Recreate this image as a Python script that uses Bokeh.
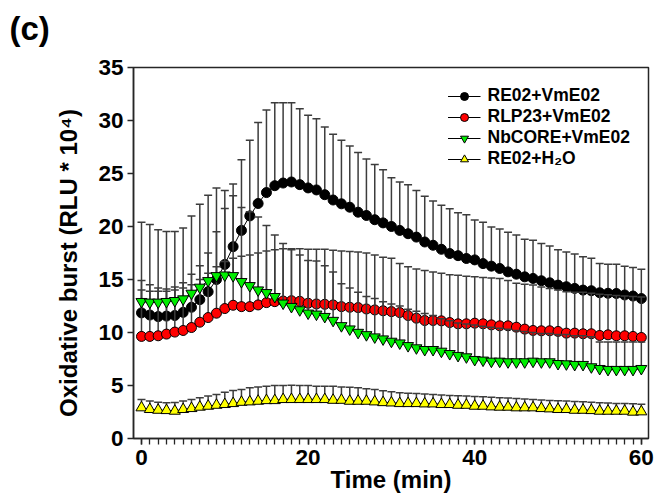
from bokeh.plotting import figure
from bokeh.models import Range1d, FixedTicker, Legend, LegendItem, Title
from bokeh.embed import file_html
from bokeh.resources import INLINE

# ---------------- data ----------------
time_min = list(range(61))
x_ticks = [0, 20, 40, 60]
y_ticks = [0, 5, 10, 15, 20, 25, 30, 35]

re02_vme02 = [11.85, 11.65, 11.5, 11.55, 11.6, 11.9, 12.38, 13.1, 13.85, 15.0,
              16.42, 18.1, 19.63, 21.0, 22.17, 23.2, 23.85, 24.1, 24.2, 23.95,
              23.64, 23.45, 23.0, 22.5, 22.14, 21.82, 21.35, 21.04, 20.64, 20.34,
              20.0, 19.63, 19.32, 19.0, 18.54, 18.23, 17.85, 17.45, 17.25, 16.98,
              16.85, 16.5, 16.26, 16.04, 15.72, 15.5, 15.25, 15.1, 14.88, 14.69,
              14.47, 14.32, 14.16, 14.0, 13.94, 13.75, 13.7, 13.68, 13.54, 13.44, 13.2]
re02_vme02_upper = [20.4, 20.2, 19.7, 19.54, 19.54, 19.85, 20.98, 22.1, 22.95, 23.64,
                    23.39, 24.0, 26.3, 28.14, 29.8, 30.98, 31.67, 31.67, 31.67, 31.1,
                    30.5, 30.17, 29.39, 28.7, 28.14, 27.6, 26.98, 26.36, 25.85, 25.36,
                    24.6, 24.2, 23.95, 23.4, 22.85, 22.4, 22.0, 21.67, 21.3, 21.1,
                    20.62, 20.4, 19.95, 19.77, 19.45, 19.2, 18.8, 18.7, 18.4, 18.15,
                    17.8, 17.6, 17.4, 17.15, 17.0, 16.5, 16.44, 16.44, 16.26, 16.13, 15.97]

rlp23_vme02 = [9.63, 9.63, 9.69, 9.85, 10.04, 10.19, 10.47, 10.97, 11.41, 11.82,
               12.26, 12.57, 12.44, 12.44, 12.6, 12.82, 12.91, 12.97, 13.0, 12.94,
               12.76, 12.69, 12.66, 12.6, 12.44, 12.38, 12.35, 12.22, 12.13, 12.05,
               11.97, 11.88, 11.6, 11.35, 11.13, 11.13, 11.1, 10.94, 10.82, 10.82,
               10.88, 10.82, 10.72, 10.63, 10.63, 10.5, 10.32, 10.19, 10.16, 10.16,
               10.1, 9.94, 9.94, 9.88, 9.88, 9.72, 9.78, 9.69, 9.69, 9.63, 9.53]
rlp23_vme02_upper = [14.0, 13.9, 13.9, 13.9, 14.0, 14.2, 14.5, 15.0, 15.6, 16.2,
                     16.7, 17.0, 17.2, 17.3, 17.5, 17.7, 17.8, 17.9, 17.9, 17.9,
                     17.85, 17.85, 17.85, 17.75, 17.7, 17.65, 17.6, 17.5, 17.3, 17.1,
                     17.0, 16.5, 16.2, 16.0, 15.85, 15.7, 15.6, 15.45, 15.4, 15.3,
                     15.25, 15.2, 15.15, 15.1, 14.9, 14.65, 14.55, 14.47, 14.3, 14.15,
                     14.0, 13.85, 13.8, 13.8, 13.7, 13.6, 13.55, 13.5, 13.45, 13.4, 13.35]

nbcore_vme02 = [12.91, 12.85, 12.85, 12.91, 13.0, 13.16, 13.69, 14.26, 14.88, 15.35,
                15.41, 15.35, 14.79, 14.41, 14.0, 13.75, 13.38, 12.76, 12.44, 12.13,
                11.82, 11.72, 11.5, 11.13, 10.63, 10.32, 10.0, 9.78, 9.57, 9.38,
                9.16, 9.0, 8.75, 8.54, 8.38, 8.38, 8.22, 8.0, 7.82, 7.69,
                7.44, 7.38, 7.28, 7.28, 7.22, 7.22, 7.22, 7.28, 7.22, 7.22,
                7.06, 7.03, 6.97, 6.97, 6.75, 6.59, 6.5, 6.5, 6.5, 6.5, 6.59]
nbcore_vme02_upper = [14.9, 14.5, 14.2, 14.1, 14.3, 14.7, 15.5, 16.3, 17.5, 19.5,
                      21.7, 22.9, 21.8, 21.4, 20.9, 20.1, 19.2, 18.4, 17.8, 17.3,
                      16.8, 16.75, 16.3, 15.7, 14.6, 14.2, 13.8, 13.4, 13.2, 12.9,
                      12.7, 12.5, 12.2, 12.0, 11.8, 11.6, 11.3, 11.1, 10.9, 10.8,
                      10.7, 10.6, 10.5, 10.4, 10.3, 10.2, 10.1, 10.0, 9.9, 9.9,
                      9.8, 9.8, 9.7, 9.7, 9.6, 9.1, 9.1, 9.1, 9.1, 9.1, 9.1]

re02_h2o = [2.91, 2.75, 2.68, 2.65, 2.59, 2.75, 2.84, 2.97, 3.06, 3.15,
            3.22, 3.31, 3.43, 3.47, 3.53, 3.59, 3.59, 3.69, 3.69, 3.69,
            3.69, 3.69, 3.69, 3.62, 3.62, 3.53, 3.53, 3.53, 3.47, 3.4,
            3.37, 3.31, 3.31, 3.31, 3.28, 3.28, 3.22, 3.22, 3.15, 3.15,
            3.06, 3.06, 3.0, 2.97, 2.97, 2.91, 2.91, 2.91, 2.84, 2.81,
            2.75, 2.75, 2.68, 2.68, 2.65, 2.59, 2.59, 2.59, 2.59, 2.5, 2.53]
re02_h2o_upper = [3.69, 3.53, 3.43, 3.37, 3.4, 3.53, 3.69, 3.84, 4.0, 4.15,
                  4.37, 4.53, 4.62, 4.78, 4.87, 4.93, 5.0, 5.0, 5.03, 5.0,
                  5.0, 4.93, 4.93, 4.93, 4.87, 4.83, 4.78, 4.69, 4.62, 4.5,
                  4.4, 4.31, 4.28, 4.25, 4.2, 4.15, 4.1, 4.06, 4.03, 4.0,
                  3.97, 3.94, 3.89, 3.84, 3.81, 3.78, 3.73, 3.69, 3.64, 3.59,
                  3.56, 3.53, 3.5, 3.47, 3.42, 3.37, 3.34, 3.31, 3.3, 3.28, 3.22]

series_names = ["RE02+VmE02", "RLP23+VmE02", "NbCORE+VmE02", "RE02+H\u2082O"]
series_means = [re02_vme02, rlp23_vme02, nbcore_vme02, re02_h2o]
series_upper = [re02_vme02_upper, rlp23_vme02_upper, nbcore_vme02_upper, re02_h2o_upper]
series_colors = ["#000000", "#ff0000", "#00ee00", "#ffff00"]
series_markers = ["circle", "circle", "inverted_triangle", "triangle"]

panel_label = "(c)"

# ---------------- figure ----------------
FONT = "Liberation Sans"
AX = "#262626"
ERR = "#3c3c3c"

p = figure(width=658, height=495, output_backend="svg", toolbar_location=None,
           x_range=Range1d(-0.96, 60.86), y_range=Range1d(0, 35),
           min_border_left=133, min_border_right=10, min_border_top=67,
           min_border_bottom=20)
p.grid.visible = False
p.background_fill_color = "white"
p.border_fill_color = "white"
p.outline_line_color = AX
p.outline_line_width = 1.5

cap_half = 0.48
legend_items = []
for name, m, up, col, mk in zip(series_names, series_means, series_upper,
                                series_colors, series_markers):
    # error bars (upper only)
    p.segment(x0=time_min, y0=m, x1=time_min, y1=up,
              line_color=ERR, line_width=1.5)
    p.segment(x0=[t - cap_half for t in time_min], y0=up,
              x1=[t + cap_half for t in time_min], y1=up,
              line_color=ERR, line_width=1.5)
    lr = p.line(time_min, m, line_color="black", line_width=1)
    size = 10 if mk == "circle" else 11
    sr = p.scatter(time_min, m, marker=mk, size=size, fill_color=col,
                   line_color="black", line_width=1)
    legend_items.append(LegendItem(label=name, renderers=[lr, sr]))

legend = Legend(items=legend_items, location="top_right",
                border_line_color=None, background_fill_alpha=0,
                label_text_font=FONT, label_text_font_style="bold",
                label_text_font_size="17.5px", label_text_color="black",
                glyph_width=33, glyph_height=20, label_height=20,
                spacing=0, label_standoff=7, padding=5, margin=18)
p.add_layout(legend)

# axes
p.xaxis.ticker = FixedTicker(ticks=x_ticks, minor_ticks=time_min)
p.yaxis.ticker = FixedTicker(ticks=y_ticks)
for ax in (p.xaxis[0], p.yaxis[0]):
    ax.axis_line_color = AX
    ax.axis_line_width = 1.5
    ax.major_tick_line_color = AX
    ax.major_tick_line_width = 1.5
    ax.major_tick_out = 6
    ax.major_tick_in = 0
    ax.major_label_text_font = FONT
    ax.major_label_text_font_style = "bold"
    ax.major_label_text_font_size = "22.5px"
    ax.major_label_text_color = "black"
    ax.axis_label_text_font = FONT
    ax.axis_label_text_font_style = "bold"
    ax.axis_label_text_font_size = "24px"
    ax.axis_label_text_color = "black"

p.xaxis.minor_tick_line_color = AX
p.xaxis.minor_tick_line_width = 1.3
p.xaxis.minor_tick_out = 6
p.xaxis.minor_tick_in = 0
p.xaxis.major_label_standoff = 5
p.xaxis.axis_label = "Time (min)"
p.xaxis.axis_label_standoff = -2

p.yaxis.minor_tick_line_color = None
p.yaxis.major_label_standoff = 4
p.yaxis.axis_label = "Oxidative burst (RLU * 10\u2074)\u00a0\u00a0\u00a0"
p.yaxis.axis_label_standoff = 13

# spacer (nearest the frame), then the panel letter above it
spacer = Title(text="\u00a0", text_font=FONT, text_font_size="12.5px",
               text_color="white", standoff=0)
p.add_layout(spacer, "above")
title = Title(text=panel_label, align="left", offset=-124,
              text_font=FONT, text_font_style="bold", text_font_size="33px",
              text_color="black")
p.add_layout(title, "above")

open("out.html", "w").write(file_html(p, INLINE))
